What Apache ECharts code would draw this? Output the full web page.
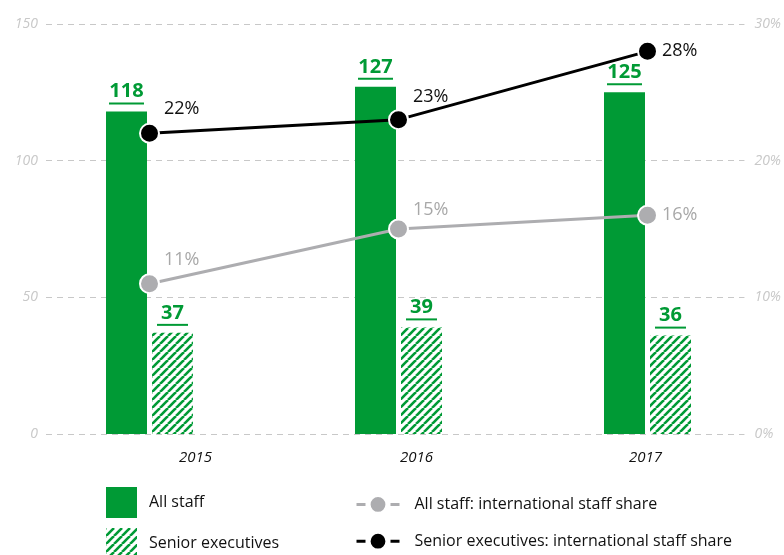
<!DOCTYPE html>
<html>
<head>
<meta charset="utf-8">
<script src="https://cdn.jsdelivr.net/npm/echarts@6/dist/echarts.min.js"></script>
<style>html,body{margin:0;padding:0;background:#fff}#c{width:784px;height:555px}</style>
</head>
<body>
<div id="c"></div>
<script>
const years = ['2015', '2016', '2017'];
const allStaff = [118, 127, 125];
const seniorExecs = [37, 39, 36];
const allStaffIntlShare = [11, 15, 16];
const seniorIntlShare = [22, 23, 28];
const leftTicks = [0, 50, 100, 150];
const rightTicks = [0, 10, 20, 30];

const GREEN = '#009a35';
const FONT = '"Open Sans", "Noto Sans", sans-serif';

// hatch pattern
const P = 8;
const pc = document.createElement('canvas');
pc.width = P; pc.height = P;
const ctx = pc.getContext('2d');
ctx.strokeStyle = GREEN; ctx.lineWidth = 2.6;
for (const k of [-P, 0, P]) { ctx.beginPath(); ctx.moveTo(k, P); ctx.lineTo(k + P, 0); ctx.stroke(); }
const hatch = { image: pc, repeat: 'repeat' };

const barLabel = {
  show: true, position: 'top', distance: 7,
  formatter: p => '{a|' + p.value + '}\n{' + (String(p.value).length > 2 ? 'u3' : 'u2') + '| }',
  rich: {
    a: { fontFamily: FONT, fontSize: 20, fontWeight: 'bold', color: GREEN, lineHeight: 22, align: 'center' },
    u3: { width: 35, height: 2, lineHeight: 2, backgroundColor: GREEN, fontSize: 1 },
    u2: { width: 31, height: 2, lineHeight: 2, backgroundColor: GREEN, fontSize: 1 }
  }
};

const blackOffsets = [[0, -24], [0, -23], [0, 0]];
const grayOffsets = [[0, -24], [0, -19], [0, 0]];
const yearPad = [[0, 0, 0, 92], [0, 0, 0, 36], [0, 4, 0, 0]];

function lineData(vals, offsets) {
  return vals.map((v, i) => ({ value: v, label: { offset: offsets[i] } }));
}

const axisLabelStyle = { fontFamily: FONT, fontStyle: 'italic', fontSize: 14, color: '#c8c8c8' };
const yearStyle = i => ({ fontFamily: FONT, fontStyle: 'italic', fontSize: 15, color: '#111', padding: yearPad[i] });

const option = {
  animation: false,
  backgroundColor: '#fff',
  grid: [
    { left: 46, right: 37, top: 24, bottom: 121 },
    { left: 25, right: 12, top: 24, bottom: 121 }
  ],
  xAxis: [
    { type: 'category', gridIndex: 0, data: years, show: false },
    {
      type: 'category', gridIndex: 1, data: years,
      axisLine: { show: false }, axisTick: { show: false },
      axisLabel: {
        margin: 16,
        formatter: (v, i) => '{y' + i + '|' + v + '}',
        rich: { y0: yearStyle(0), y1: yearStyle(1), y2: yearStyle(2) }
      }
    }
  ],
  yAxis: [
    {
      type: 'value', gridIndex: 0, min: leftTicks[0], max: leftTicks[leftTicks.length - 1], interval: leftTicks[1] - leftTicks[0],
      axisLine: { show: false }, axisTick: { show: false },
      axisLabel: Object.assign({ margin: 8 }, axisLabelStyle),
      splitLine: { show: true, lineStyle: { color: '#c8c8c8', width: 1, type: [6, 5] } }
    },
    {
      type: 'value', gridIndex: 0, position: 'right', min: rightTicks[0], max: rightTicks[rightTicks.length - 1], interval: rightTicks[1] - rightTicks[0],
      axisLine: { show: false }, axisTick: { show: false }, splitLine: { show: false },
      axisLabel: Object.assign({ margin: 10, formatter: '{value}%' }, axisLabelStyle)
    },
    { type: 'value', gridIndex: 1, min: 0, max: 150, show: false, splitLine: { show: false } },
    { type: 'value', gridIndex: 1, min: 0, max: 30, show: false, splitLine: { show: false } }
  ],
  legend: [
    {
      data: ['All staff', 'Senior executives'], orient: 'vertical', left: 106, top: 487, height: 150, padding: 0,
      icon: 'rect', itemWidth: 31, itemHeight: 31, itemGap: 10, selectedMode: false,
      textStyle: { fontFamily: FONT, fontSize: 16, color: '#111', padding: [0, 0, 0, 7] }
    },
    {
      data: ['All staff: international staff share', 'Senior executives: international staff share'],
      orient: 'vertical', left: 355, top: 495, height: 150, padding: 0, itemWidth: 43, itemHeight: 21, itemGap: 18, selectedMode: false,
      lineStyle: { type: [9, 25], width: 3 },
      textStyle: { fontFamily: FONT, fontSize: 16, color: '#111', padding: [0, 0, 0, 10] }
    }
  ],
  series: [
    {
      name: 'All staff', type: 'bar', xAxisIndex: 1, yAxisIndex: 2,
      data: allStaff, barWidth: 41, barGap: '12.2%',
      itemStyle: { color: GREEN }, label: barLabel
    },
    {
      name: 'Senior executives', type: 'bar', xAxisIndex: 1, yAxisIndex: 2,
      data: seniorExecs, barWidth: 41,
      itemStyle: { color: hatch }, label: barLabel
    },
    {
      name: 'All staff: international staff share', type: 'line', xAxisIndex: 1, yAxisIndex: 3, z: 5,
      data: lineData(allStaffIntlShare, grayOffsets),
      symbol: 'circle', symbolSize: 19,
      lineStyle: { color: '#adadb0', width: 3 },
      itemStyle: { color: '#adadb0', borderColor: '#fff', borderWidth: 2 },
      label: { show: true, position: 'right', distance: 4, formatter: '{c}%', fontFamily: FONT, fontSize: 18, color: '#a8a8a8' }
    },
    {
      name: 'Senior executives: international staff share', type: 'line', xAxisIndex: 1, yAxisIndex: 3, z: 6,
      data: lineData(seniorIntlShare, blackOffsets),
      symbol: 'circle', symbolSize: 19,
      lineStyle: { color: '#000', width: 3 },
      itemStyle: { color: '#000', borderColor: '#fff', borderWidth: 2 },
      label: { show: true, position: 'right', distance: 4, formatter: '{c}%', fontFamily: FONT, fontSize: 18, color: '#111' }
    }
  ]
};

const chart = echarts.init(document.getElementById('c'), null, { renderer: 'canvas' });
chart.setOption(option);
</script>
</body>
</html>
